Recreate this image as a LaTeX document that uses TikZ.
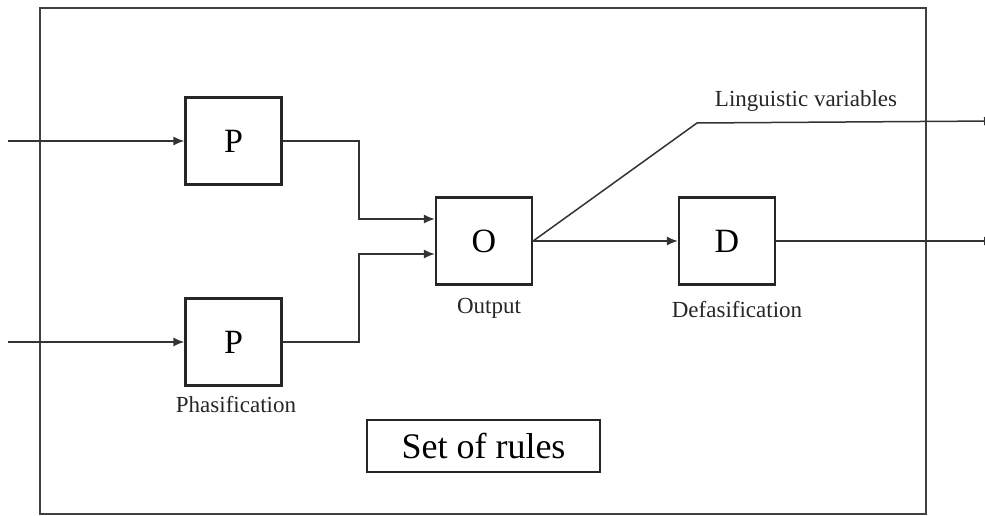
\documentclass[tikz,border=0pt]{standalone}
\usepackage{fontspec}
\setmainfont{Liberation Serif}
\usetikzlibrary{arrows.meta}
\begin{document}
\begin{tikzpicture}[x=1pt,y=-1pt,
  block/.style={draw=black!85,line width=2.3pt,minimum width=96pt,minimum height=87pt,
    inner sep=0pt,font=\fontsize{34}{36}\selectfont},
  caption/.style={inner sep=0pt,font=\fontsize{23}{25}\selectfont,text=black!85},
  wire/.style={draw=black!80,line width=1.5pt},
  flow/.style={wire,-{Latex[length=11pt,width=9pt]}}]
\useasboundingbox (0,0) rectangle (985,516);
% outer frame of the controller
\draw[draw=black!75,line width=2.8pt] (40,8) rectangle (926,514);
% blocks
\node[block] (p1) at (233.5,141) {P};
\node[block] (p2) at (233.5,342) {P};
\node[block] (o) at (484,241) {O};
\node[block] (d) at (727,241) {D};
\node[draw=black!85,line width=2.3pt,minimum width=233pt,minimum height=52pt,inner sep=0pt,
  font=\fontsize{36}{38}\selectfont] (rules) at (483.5,446) {Set of rules};
% captions
\node[caption] (lp) at (236,405) {Phasification};
\node[caption] (lo) at (489,308) {Output};
\node[caption] (ld) at (737,310) {Defasification};
\node[caption] (ll) at (806,101) {Linguistic variables};
% free ends
\coordinate (in1) at (8,141);
\coordinate (in2) at (8,342);
\coordinate (bend) at (697,123);
\coordinate (out1) at (995,121);
\coordinate (out2) at (995,241);
% connectors
\draw[flow] (in1) -- (p1.west);
\draw[flow] (in2) -- (p2.west);
\draw[flow] (p1.east) -- (359,141) |- ([yshift=22pt]o.west);
\draw[flow] (p2.east) -- (359,342) |- ([yshift=-13pt]o.west);
\draw[flow] (o.east) -- (d.west);
\draw[flow] (d.east) -- (out2);
\draw[flow] (o.east) -- (bend) -- (out1);
\end{tikzpicture}
\end{document}
